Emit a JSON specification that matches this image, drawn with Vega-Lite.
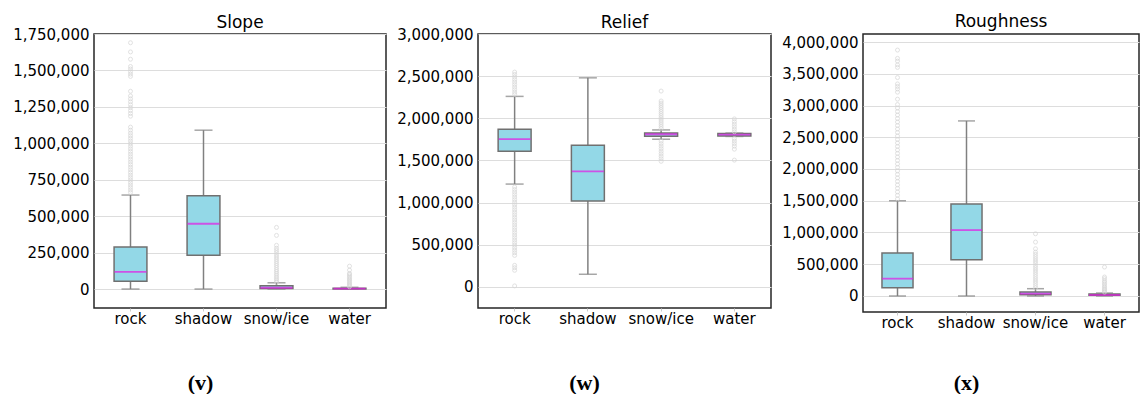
{
  "$schema": "https://vega.github.io/schema/vega-lite/v6.json",
  "padding": {"left": 11, "top": 12, "right": 0, "bottom": 0},
  "spacing": 8,
  "datasets": {
    "slopeStats": [
      {"cat": "rock", "lo": 0, "q1": 54000, "med": 118000, "q3": 289000, "hi": 645000},
      {"cat": "shadow", "lo": 0, "q1": 232000, "med": 448000, "q3": 641000, "hi": 1090000},
      {"cat": "snow/ice", "lo": 0, "q1": 3000, "med": 9000, "q3": 22000, "hi": 43000},
      {"cat": "water", "lo": 0, "q1": 0, "med": 3000, "q3": 6000, "hi": 12000}
    ],
    "slopeOut": [
      {"cat": "rock", "v": 663000}, {"cat": "rock", "v": 680000}, {"cat": "rock", "v": 697000}, {"cat": "rock", "v": 714000}, {"cat": "rock", "v": 731000}, {"cat": "rock", "v": 748000}, {"cat": "rock", "v": 765000}, {"cat": "rock", "v": 782000}, {"cat": "rock", "v": 800000}, {"cat": "rock", "v": 818000}, {"cat": "rock", "v": 836000}, {"cat": "rock", "v": 854000}, {"cat": "rock", "v": 872000}, {"cat": "rock", "v": 890000}, {"cat": "rock", "v": 908000}, {"cat": "rock", "v": 926000}, {"cat": "rock", "v": 944000}, {"cat": "rock", "v": 962000}, {"cat": "rock", "v": 980000}, {"cat": "rock", "v": 998000}, {"cat": "rock", "v": 1016000}, {"cat": "rock", "v": 1034000}, {"cat": "rock", "v": 1052000}, {"cat": "rock", "v": 1070000}, {"cat": "rock", "v": 1090000}, {"cat": "rock", "v": 1111000},
      {"cat": "rock", "v": 1186000}, {"cat": "rock", "v": 1205000}, {"cat": "rock", "v": 1225000}, {"cat": "rock", "v": 1245000}, {"cat": "rock", "v": 1265000}, {"cat": "rock", "v": 1285000}, {"cat": "rock", "v": 1305000}, {"cat": "rock", "v": 1325000}, {"cat": "rock", "v": 1357000},
      {"cat": "rock", "v": 1459000}, {"cat": "rock", "v": 1475000}, {"cat": "rock", "v": 1492000}, {"cat": "rock", "v": 1510000}, {"cat": "rock", "v": 1527000}, {"cat": "rock", "v": 1577000}, {"cat": "rock", "v": 1627000}, {"cat": "rock", "v": 1690000},
      {"cat": "snow/ice", "v": 47000}, {"cat": "snow/ice", "v": 58000}, {"cat": "snow/ice", "v": 70000}, {"cat": "snow/ice", "v": 82000}, {"cat": "snow/ice", "v": 95000}, {"cat": "snow/ice", "v": 108000}, {"cat": "snow/ice", "v": 121000}, {"cat": "snow/ice", "v": 134000}, {"cat": "snow/ice", "v": 148000}, {"cat": "snow/ice", "v": 162000}, {"cat": "snow/ice", "v": 176000}, {"cat": "snow/ice", "v": 190000}, {"cat": "snow/ice", "v": 205000}, {"cat": "snow/ice", "v": 220000}, {"cat": "snow/ice", "v": 235000}, {"cat": "snow/ice", "v": 250000}, {"cat": "snow/ice", "v": 265000}, {"cat": "snow/ice", "v": 280000}, {"cat": "snow/ice", "v": 300000}, {"cat": "snow/ice", "v": 368000}, {"cat": "snow/ice", "v": 423000},
      {"cat": "water", "v": 16000}, {"cat": "water", "v": 25000}, {"cat": "water", "v": 34000}, {"cat": "water", "v": 43000}, {"cat": "water", "v": 52000}, {"cat": "water", "v": 61000}, {"cat": "water", "v": 70000}, {"cat": "water", "v": 80000}, {"cat": "water", "v": 90000}, {"cat": "water", "v": 100000}, {"cat": "water", "v": 107000}, {"cat": "water", "v": 130000}, {"cat": "water", "v": 157000}
    ],
    "reliefStats": [
      {"cat": "rock", "lo": 1220000, "q1": 1610000, "med": 1752000, "q3": 1870000, "hi": 2260000},
      {"cat": "shadow", "lo": 150000, "q1": 1020000, "med": 1370000, "q3": 1680000, "hi": 2480000},
      {"cat": "snow/ice", "lo": 1752000, "q1": 1787000, "med": 1811000, "q3": 1827000, "hi": 1862000},
      {"cat": "water", "lo": 1785000, "q1": 1790000, "med": 1807000, "q3": 1820000, "hi": 1825000}
    ],
    "reliefOut": [
      {"cat": "rock", "v": 2283000}, {"cat": "rock", "v": 2310000}, {"cat": "rock", "v": 2340000}, {"cat": "rock", "v": 2370000}, {"cat": "rock", "v": 2400000}, {"cat": "rock", "v": 2430000}, {"cat": "rock", "v": 2460000}, {"cat": "rock", "v": 2490000}, {"cat": "rock", "v": 2520000}, {"cat": "rock", "v": 2548000},
      {"cat": "rock", "v": 1185000}, {"cat": "rock", "v": 1155000}, {"cat": "rock", "v": 1125000}, {"cat": "rock", "v": 1095000}, {"cat": "rock", "v": 1065000}, {"cat": "rock", "v": 1035000}, {"cat": "rock", "v": 1005000}, {"cat": "rock", "v": 975000}, {"cat": "rock", "v": 945000}, {"cat": "rock", "v": 915000}, {"cat": "rock", "v": 885000}, {"cat": "rock", "v": 855000}, {"cat": "rock", "v": 825000}, {"cat": "rock", "v": 795000}, {"cat": "rock", "v": 765000}, {"cat": "rock", "v": 735000}, {"cat": "rock", "v": 705000}, {"cat": "rock", "v": 675000}, {"cat": "rock", "v": 645000}, {"cat": "rock", "v": 615000}, {"cat": "rock", "v": 585000}, {"cat": "rock", "v": 555000}, {"cat": "rock", "v": 525000}, {"cat": "rock", "v": 495000}, {"cat": "rock", "v": 465000}, {"cat": "rock", "v": 435000}, {"cat": "rock", "v": 405000}, {"cat": "rock", "v": 374000}, {"cat": "rock", "v": 256000}, {"cat": "rock", "v": 228000}, {"cat": "rock", "v": 197000}, {"cat": "rock", "v": 12000},
      {"cat": "snow/ice", "v": 1880000}, {"cat": "snow/ice", "v": 1905000}, {"cat": "snow/ice", "v": 1930000}, {"cat": "snow/ice", "v": 1955000}, {"cat": "snow/ice", "v": 1980000}, {"cat": "snow/ice", "v": 2005000}, {"cat": "snow/ice", "v": 2030000}, {"cat": "snow/ice", "v": 2055000}, {"cat": "snow/ice", "v": 2080000}, {"cat": "snow/ice", "v": 2105000}, {"cat": "snow/ice", "v": 2130000}, {"cat": "snow/ice", "v": 2155000}, {"cat": "snow/ice", "v": 2180000}, {"cat": "snow/ice", "v": 2205000}, {"cat": "snow/ice", "v": 2323000},
      {"cat": "snow/ice", "v": 1730000}, {"cat": "snow/ice", "v": 1700000}, {"cat": "snow/ice", "v": 1670000}, {"cat": "snow/ice", "v": 1640000}, {"cat": "snow/ice", "v": 1610000}, {"cat": "snow/ice", "v": 1580000}, {"cat": "snow/ice", "v": 1550000}, {"cat": "snow/ice", "v": 1520000}, {"cat": "snow/ice", "v": 1490000},
      {"cat": "water", "v": 1840000}, {"cat": "water", "v": 1870000}, {"cat": "water", "v": 1900000}, {"cat": "water", "v": 1930000}, {"cat": "water", "v": 1960000}, {"cat": "water", "v": 1993000}, {"cat": "water", "v": 1760000}, {"cat": "water", "v": 1730000}, {"cat": "water", "v": 1700000}, {"cat": "water", "v": 1670000}, {"cat": "water", "v": 1634000}, {"cat": "water", "v": 1504000}
    ],
    "roughStats": [
      {"cat": "rock", "lo": 0, "q1": 131000, "med": 273000, "q3": 676000, "hi": 1500000},
      {"cat": "shadow", "lo": 0, "q1": 571000, "med": 1038000, "q3": 1450000, "hi": 2757000},
      {"cat": "snow/ice", "lo": 0, "q1": 21000, "med": 37000, "q3": 63000, "hi": 115000},
      {"cat": "water", "lo": 0, "q1": 10000, "med": 16000, "q3": 31000, "hi": 47000}
    ],
    "roughOut": [
      {"cat": "rock", "v": 1530000}, {"cat": "rock", "v": 1585000}, {"cat": "rock", "v": 1640000}, {"cat": "rock", "v": 1695000}, {"cat": "rock", "v": 1750000}, {"cat": "rock", "v": 1805000}, {"cat": "rock", "v": 1860000}, {"cat": "rock", "v": 1915000}, {"cat": "rock", "v": 1970000}, {"cat": "rock", "v": 2025000}, {"cat": "rock", "v": 2080000}, {"cat": "rock", "v": 2135000}, {"cat": "rock", "v": 2190000}, {"cat": "rock", "v": 2245000}, {"cat": "rock", "v": 2300000}, {"cat": "rock", "v": 2355000}, {"cat": "rock", "v": 2410000}, {"cat": "rock", "v": 2465000}, {"cat": "rock", "v": 2520000}, {"cat": "rock", "v": 2575000}, {"cat": "rock", "v": 2630000}, {"cat": "rock", "v": 2685000}, {"cat": "rock", "v": 2740000}, {"cat": "rock", "v": 2795000}, {"cat": "rock", "v": 2850000}, {"cat": "rock", "v": 2905000}, {"cat": "rock", "v": 2960000}, {"cat": "rock", "v": 3015000}, {"cat": "rock", "v": 3100000},
      {"cat": "rock", "v": 3210000}, {"cat": "rock", "v": 3260000}, {"cat": "rock", "v": 3300000}, {"cat": "rock", "v": 3340000}, {"cat": "rock", "v": 3440000}, {"cat": "rock", "v": 3600000}, {"cat": "rock", "v": 3640000}, {"cat": "rock", "v": 3700000}, {"cat": "rock", "v": 3742000}, {"cat": "rock", "v": 3873000},
      {"cat": "snow/ice", "v": 130000}, {"cat": "snow/ice", "v": 165000}, {"cat": "snow/ice", "v": 200000}, {"cat": "snow/ice", "v": 235000}, {"cat": "snow/ice", "v": 270000}, {"cat": "snow/ice", "v": 305000}, {"cat": "snow/ice", "v": 340000}, {"cat": "snow/ice", "v": 375000}, {"cat": "snow/ice", "v": 410000}, {"cat": "snow/ice", "v": 445000}, {"cat": "snow/ice", "v": 480000}, {"cat": "snow/ice", "v": 515000}, {"cat": "snow/ice", "v": 550000}, {"cat": "snow/ice", "v": 585000}, {"cat": "snow/ice", "v": 620000}, {"cat": "snow/ice", "v": 655000}, {"cat": "snow/ice", "v": 690000}, {"cat": "snow/ice", "v": 744000}, {"cat": "snow/ice", "v": 849000}, {"cat": "snow/ice", "v": 980000},
      {"cat": "water", "v": 60000}, {"cat": "water", "v": 80000}, {"cat": "water", "v": 100000}, {"cat": "water", "v": 115000}, {"cat": "water", "v": 140000}, {"cat": "water", "v": 165000}, {"cat": "water", "v": 190000}, {"cat": "water", "v": 215000}, {"cat": "water", "v": 240000}, {"cat": "water", "v": 272000}, {"cat": "water", "v": 299000}, {"cat": "water", "v": 456000}
    ]
  },
  "hconcat": [
    {
      "width": 292, "height": 274,
      "title": {"text": "Slope"},
      "encoding": {"x": {"field": "cat", "type": "nominal", "scale": {"domain": ["rock", "shadow", "snow/ice", "water"], "paddingInner": 0, "paddingOuter": 0},
                         "axis": {"title": "(v)", "titleX": 106, "titleY": 81}}},
      "layer": [
        {"data": {"name": "slopeStats"}, "mark": {"type": "rule", "color": "#808080", "strokeWidth": 1.5},
         "encoding": {"y": {"field": "lo", "type": "quantitative", "scale": {"domain": [-130000, 1750000], "nice": false, "zero": false},
                            "axis": {"title": null, "values": [0, 250000, 500000, 750000, 1000000, 1250000, 1500000, 1750000], "format": ",d"}},
                      "y2": {"field": "hi"}}},
        {"data": {"name": "slopeStats"}, "mark": {"type": "bar", "fill": "#93d8e7", "stroke": "#707070", "strokeWidth": 1.5, "width": {"band": 0.45}},
         "encoding": {"y": {"field": "q1", "type": "quantitative", "axis": {"title": null, "values": [0, 250000, 500000, 750000, 1000000, 1250000, 1500000, 1750000], "format": ",d"}}, "y2": {"field": "q3"}}},
        {"data": {"name": "slopeStats"}, "mark": {"type": "tick", "color": "#808080", "size": 18, "thickness": 1.5},
         "encoding": {"y": {"field": "lo", "type": "quantitative", "axis": {"title": null, "values": [0, 250000, 500000, 750000, 1000000, 1250000, 1500000, 1750000], "format": ",d"}}}},
        {"data": {"name": "slopeStats"}, "mark": {"type": "tick", "color": "#808080", "size": 18, "thickness": 1.5},
         "encoding": {"y": {"field": "hi", "type": "quantitative", "axis": {"title": null, "values": [0, 250000, 500000, 750000, 1000000, 1250000, 1500000, 1750000], "format": ",d"}}}},
        {"data": {"name": "slopeStats"}, "mark": {"type": "tick", "color": "#e619e6", "size": 32, "thickness": 1.8},
         "encoding": {"y": {"field": "med", "type": "quantitative", "axis": {"title": null, "values": [0, 250000, 500000, 750000, 1000000, 1250000, 1500000, 1750000], "format": ",d"}}}},
        {"data": {"name": "slopeOut"}, "mark": {"type": "point", "shape": "circle", "filled": false, "stroke": "#d6d6d6", "strokeWidth": 1, "size": 16},
         "encoding": {"y": {"field": "v", "type": "quantitative", "axis": {"title": null, "values": [0, 250000, 500000, 750000, 1000000, 1250000, 1500000, 1750000], "format": ",d"}}}}
      ]
    },
    {
      "width": 293, "height": 274,
      "title": {"text": "Relief"},
      "encoding": {"x": {"field": "cat", "type": "nominal", "scale": {"domain": ["rock", "shadow", "snow/ice", "water"], "paddingInner": 0, "paddingOuter": 0},
                         "axis": {"title": "(w)", "titleX": 106, "titleY": 81}}},
      "layer": [
        {"data": {"name": "reliefStats"}, "mark": {"type": "rule", "color": "#808080", "strokeWidth": 1.5},
         "encoding": {"y": {"field": "lo", "type": "quantitative", "scale": {"domain": [-250000, 3000000], "nice": false, "zero": false},
                            "axis": {"title": null, "values": [0, 500000, 1000000, 1500000, 2000000, 2500000, 3000000], "format": ",d"}},
                      "y2": {"field": "hi"}}},
        {"data": {"name": "reliefStats"}, "mark": {"type": "bar", "fill": "#93d8e7", "stroke": "#707070", "strokeWidth": 1.5, "width": {"band": 0.45}},
         "encoding": {"y": {"field": "q1", "type": "quantitative", "axis": {"title": null, "values": [0, 500000, 1000000, 1500000, 2000000, 2500000, 3000000], "format": ",d"}}, "y2": {"field": "q3"}}},
        {"data": {"name": "reliefStats"}, "mark": {"type": "tick", "color": "#808080", "size": 18, "thickness": 1.5},
         "encoding": {"y": {"field": "lo", "type": "quantitative", "axis": {"title": null, "values": [0, 500000, 1000000, 1500000, 2000000, 2500000, 3000000], "format": ",d"}}}},
        {"data": {"name": "reliefStats"}, "mark": {"type": "tick", "color": "#808080", "size": 18, "thickness": 1.5},
         "encoding": {"y": {"field": "hi", "type": "quantitative", "axis": {"title": null, "values": [0, 500000, 1000000, 1500000, 2000000, 2500000, 3000000], "format": ",d"}}}},
        {"data": {"name": "reliefStats"}, "mark": {"type": "tick", "color": "#e619e6", "size": 32, "thickness": 1.8},
         "encoding": {"y": {"field": "med", "type": "quantitative", "axis": {"title": null, "values": [0, 500000, 1000000, 1500000, 2000000, 2500000, 3000000], "format": ",d"}}}},
        {"data": {"name": "reliefOut"}, "mark": {"type": "point", "shape": "circle", "filled": false, "stroke": "#d6d6d6", "strokeWidth": 1, "size": 16},
         "encoding": {"y": {"field": "v", "type": "quantitative", "axis": {"title": null, "values": [0, 500000, 1000000, 1500000, 2000000, 2500000, 3000000], "format": ",d"}}}}
      ]
    },
    {
      "width": 276, "height": 278,
      "title": {"text": "Roughness", "offset": 3},
      "encoding": {"x": {"field": "cat", "type": "nominal", "scale": {"domain": ["rock", "shadow", "snow/ice", "water"], "paddingInner": 0, "paddingOuter": 0},
                         "axis": {"title": "(x)", "titleX": 103, "titleY": 77}}},
      "layer": [
        {"data": {"name": "roughStats"}, "mark": {"type": "rule", "color": "#808080", "strokeWidth": 1.5},
         "encoding": {"y": {"field": "lo", "type": "quantitative", "scale": {"domain": [-252000, 4126000], "nice": false, "zero": false},
                            "axis": {"title": null, "values": [0, 500000, 1000000, 1500000, 2000000, 2500000, 3000000, 3500000, 4000000], "format": ",d"}},
                      "y2": {"field": "hi"}}},
        {"data": {"name": "roughStats"}, "mark": {"type": "bar", "fill": "#93d8e7", "stroke": "#707070", "strokeWidth": 1.5, "width": {"band": 0.45}},
         "encoding": {"y": {"field": "q1", "type": "quantitative", "axis": {"title": null, "values": [0, 500000, 1000000, 1500000, 2000000, 2500000, 3000000, 3500000, 4000000], "format": ",d"}}, "y2": {"field": "q3"}}},
        {"data": {"name": "roughStats"}, "mark": {"type": "tick", "color": "#808080", "size": 17, "thickness": 1.5},
         "encoding": {"y": {"field": "lo", "type": "quantitative", "axis": {"title": null, "values": [0, 500000, 1000000, 1500000, 2000000, 2500000, 3000000, 3500000, 4000000], "format": ",d"}}}},
        {"data": {"name": "roughStats"}, "mark": {"type": "tick", "color": "#808080", "size": 17, "thickness": 1.5},
         "encoding": {"y": {"field": "hi", "type": "quantitative", "axis": {"title": null, "values": [0, 500000, 1000000, 1500000, 2000000, 2500000, 3000000, 3500000, 4000000], "format": ",d"}}}},
        {"data": {"name": "roughStats"}, "mark": {"type": "tick", "color": "#e619e6", "size": 31, "thickness": 1.8},
         "encoding": {"y": {"field": "med", "type": "quantitative", "axis": {"title": null, "values": [0, 500000, 1000000, 1500000, 2000000, 2500000, 3000000, 3500000, 4000000], "format": ",d"}}}},
        {"data": {"name": "roughOut"}, "mark": {"type": "point", "shape": "circle", "filled": false, "stroke": "#d6d6d6", "strokeWidth": 1, "size": 16},
         "encoding": {"y": {"field": "v", "type": "quantitative", "axis": {"title": null, "values": [0, 500000, 1000000, 1500000, 2000000, 2500000, 3000000, 3500000, 4000000], "format": ",d"}}}}
      ]
    }
  ],
  "config": {
    "font": "DejaVu Sans",
    "title": {"fontSize": 17, "fontWeight": "normal", "font": "DejaVu Sans", "color": "#000000", "offset": -5, "baseline": "alphabetic", "anchor": "middle"},
    "view": {"stroke": "#262626", "strokeWidth": 1.5},
    "axisY": {"labelFont": "DejaVu Sans", "labelFontSize": 15, "labelColor": "#000000", "tickSize": 0, "labelPadding": 5, "domain": false, "grid": true, "gridColor": "#dddddd", "gridWidth": 1.2},
    "axisX": {"labelFont": "DejaVu Sans", "labelFontSize": 15, "labelColor": "#000000", "labelAngle": 0, "tickSize": 3, "tickColor": "#cccccc", "labelPadding": 0, "domain": false, "grid": false,
              "titleFont": "Liberation Serif", "titleFontSize": 22, "titleFontWeight": "bold", "titleColor": "#000000", "titleBaseline": "alphabetic", "titleAnchor": "start", "titleAlign": "center"},
    "concat": {"spacing": 8}
  }
}
